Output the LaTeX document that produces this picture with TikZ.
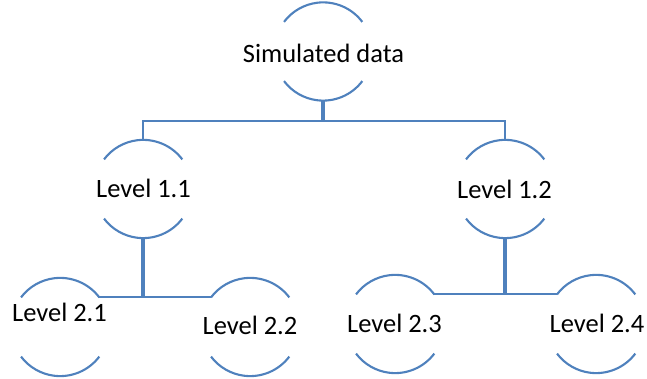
\documentclass[tikz,border=0pt]{standalone}
\usepackage{fontspec}
\setmainfont{Carlito}
\definecolor{ringblue}{HTML}{4F81BD}
\begin{document}
\begin{tikzpicture}[x=1pt,y=1pt,
  ring/.style={circle,minimum size=98pt,inner sep=0pt,draw=none},
  lbl/.style={anchor=base,inner sep=0pt,font=\fontsize{26.5}{30}\selectfont},
  arcl/.style={draw=ringblue,line width=2.1pt},
  conn/.style={draw=ringblue,line width=2.1pt},
  stemline/.style={draw=ringblue,line width=3.1pt}]
\useasboundingbox (0,0) rectangle (647,379);
% ring centres
\node[ring] (r0)  at (323,327.5) {};
\node[ring] (r11) at (143,190) {};
\node[ring] (r12) at (505,190) {};
\node[ring] (r21) at (60,52) {};
\node[ring] (r22) at (250,52) {};
\node[ring] (r23) at (395,55) {};
\node[ring] (r24) at (596,55) {};
% ring arcs
\foreach \n in {r0,r11,r12,r21,r22,r23,r24}{
  \draw[arcl] (\n.37) arc[start angle=37,end angle=143,radius=49pt];
  \draw[arcl] (\n.-37) arc[start angle=-37,end angle=-143,radius=49pt];
}
% labels
\node[lbl] (t0)  at (323.5,316) {Simulated data};
\node[lbl] (t11) at (143.5,181) {Level 1.1};
\node[lbl] (t12) at (504.5,180) {Level 1.2};
\node[lbl] (t21) at (59.5,57) {Level 2.1};
\node[lbl] (t22) at (250,44) {Level 2.2};
\node[lbl] (t23) at (394.5,46) {Level 2.3};
\node[lbl] (t24) at (597,46) {Level 2.4};
% connectors
\coordinate (j0) at (323,258);
\draw[stemline] (r0.south) -- (j0);
\draw[conn] (r11.north) |- (j0) -| (r12.north);
\draw[stemline] (r11.south) -- (r11.south |- r21.37);
\draw[conn] (r21.37) -- (r22.143);
\draw[stemline] (r12.south) -- (r12.south |- r23.37);
\draw[conn] (r23.37) -- (r24.143);
\end{tikzpicture}
\end{document}
